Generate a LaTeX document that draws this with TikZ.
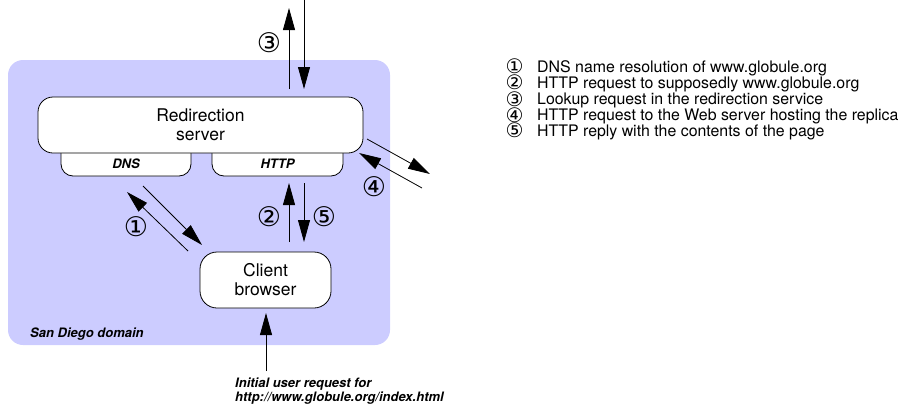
\documentclass[tikz,border=0pt]{standalone}
\usepackage{fontspec}
\setmainfont{TeX Gyre Heros}
\newfontfamily\circfont{DejaVu Sans}
\usetikzlibrary{arrows.meta}
\definecolor{domainblue}{RGB}{204,204,255}
% one legend entry: circled number, then its description
\newcommand{\legendline}[2]{\makebox[13pt][c]{\smash{\raisebox{-1.5pt}{\circfont\fontsize{20}{20}\selectfont #1}}}\hspace{16pt}#2}
\begin{document}
\begin{tikzpicture}[x=1pt,y=-1pt,
  flow/.style={-{Triangle[length=22pt,width=12pt]}, line width=0.8pt},
  box/.style={draw, line width=0.8pt, fill=white, rounded corners=15pt,
    align=center, font=\fontsize{17.5}{19}\selectfont, inner sep=0pt},
  tab/.style={draw, line width=0.8pt, fill=white, rounded corners=12pt, inner sep=0pt},
  tablabel/.style={font=\fontsize{13}{15}\selectfont\bfseries\itshape},
  step label/.style={font=\circfont\fontsize{27}{27}\selectfont, inner sep=0pt,
    text height=13pt, text depth=2pt, anchor=base},
  legend/.style={anchor=base west, align=left, inner sep=0pt,
    font=\fontsize{15.9}{16}\selectfont}]
\useasboundingbox (0,0) rectangle (904,405);

% domain background
\fill[domainblue, rounded corners=15pt] (8,60) rectangle (390,345);
\node[tablabel, anchor=base west, inner sep=0pt] (domain) at (30,337) {San Diego domain};

% DNS and HTTP tabs below the redirection server
\node[tab, minimum width=130pt, minimum height=40pt] (dnstab) at (126,156) {};
\node[tab, minimum width=131pt, minimum height=40pt] (httptab) at (277.5,156) {};
\node[tablabel] (dnslabel) at (126,164) {DNS};
\node[tablabel] (httplabel) at (277.5,164) {HTTP};

% main boxes
\node[box, minimum width=325pt, minimum height=56pt] (redir) at (200.5,125) {Redirection\\server};
\node[box, minimum width=131pt, minimum height=56pt, rounded corners=17pt] (client) at (265.5,280) {Client\\browser};

% connector end points
\coordinate (a3s) at (289,89);  \coordinate (a3e) at (289,8);
\coordinate (b3s) at (304,0);   \coordinate (b3e) at (304,89);
\coordinate (a4s) at (367,139); \coordinate (a4e) at (430,174);
\coordinate (b4s) at (422,188); \coordinate (b4e) at (359,153);
\coordinate (a1s) at (188,251); \coordinate (a1e) at (127,192);
\coordinate (b1s) at (143,186); \coordinate (b1e) at (202,245);
\coordinate (a2s) at (289,242); \coordinate (a2e) at (289,183);
\coordinate (a5s) at (304,183); \coordinate (a5e) at (304,242);
\coordinate (ins) at (266,371); \coordinate (ine) at (266,313);

\draw[flow] (a3s) -- (a3e);
\draw[flow] (b3s) -- (b3e);
\draw[flow] (a4s) -- (a4e);
\draw[flow] (b4s) -- (b4e);
\draw[flow] (a1s) -- (a1e);
\draw[flow] (b1s) -- (b1e);
\draw[flow] (a2s) -- (a2e);
\draw[flow] (a5s) -- (a5e);
\draw[flow] (ins) -- (ine);

% step numbers (placed by baseline)
\node[step label] (n3) at (269,52) {③};
\node[step label] (n4) at (374,196) {④};
\node[step label] (n1) at (136,236) {①};
\node[step label] (n2) at (269,226) {②};
\node[step label] (n5) at (324,226) {⑤};

% initial request caption
\node[tablabel, anchor=base west, inner sep=0pt, align=left] (initial) at (235,387)
  {Initial user request for};
\node[tablabel, anchor=base west, inner sep=0pt] (initialurl) at (235,401)
  {http://www.globule.org/index.html};

% legend (anchored at the baseline of its last line)
\node[legend] (legend) at (508,136) {%
  \legendline{①}{DNS name resolution of www.globule.org}\\[0.1pt]
  \legendline{②}{HTTP request to supposedly www.globule.org}\\[0.3pt]
  \legendline{③}{Lookup request in the redirection service}\\[0.1pt]
  \legendline{④}{HTTP request to the Web server hosting the replica}\\[-0.6pt]
  \legendline{⑤}{HTTP reply with the contents of the page}};
\end{tikzpicture}
\end{document}
